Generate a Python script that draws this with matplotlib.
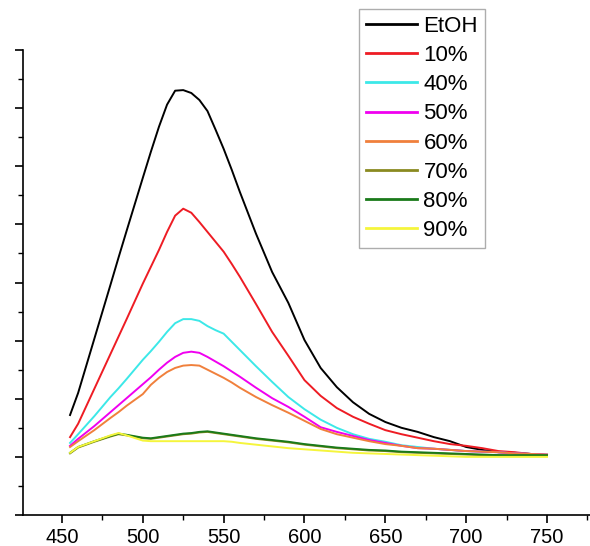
import numpy as np
import matplotlib.pyplot as plt
from matplotlib.ticker import MultipleLocator

plt.rcParams['font.family'] = ['Liberation Sans', 'DejaVu Sans']

# wavelength grid (nm)
wl = [455, 460, 470, 480, 485, 490, 500, 505, 510, 515, 520, 525, 530, 535, 540, 545,
      550, 555, 560, 570, 580, 590, 600, 610, 620, 630, 640, 650, 660, 670, 680,
      690, 700, 710, 720, 730, 740, 750]

etoh = [1.72, 2.10, 3.03, 3.96, 4.43, 4.89, 5.80, 6.25, 6.68, 7.06, 7.30, 7.31, 7.26, 7.14, 6.95, 6.63,
        6.30, 5.94, 5.56, 4.84, 4.18, 3.65, 3.01, 2.53, 2.20, 1.94, 1.74, 1.60, 1.50, 1.43, 1.34,
        1.27, 1.17, 1.12, 1.08, 1.07, 1.05, 1.03]
p10 = [1.34, 1.57, 2.17, 2.77, 3.07, 3.37, 3.98, 4.27, 4.56, 4.87, 5.15, 5.27, 5.20, 5.04, 4.87, 4.70,
       4.53, 4.32, 4.10, 3.63, 3.15, 2.74, 2.32, 2.05, 1.84, 1.69, 1.57, 1.46, 1.39, 1.33, 1.27,
       1.22, 1.19, 1.15, 1.10, 1.08, 1.05, 1.03]
p40 = [1.24, 1.39, 1.70, 2.03, 2.18, 2.34, 2.67, 2.82, 2.98, 3.15, 3.30, 3.37, 3.37, 3.34, 3.25, 3.18,
       3.12, 2.98, 2.84, 2.56, 2.29, 2.03, 1.82, 1.64, 1.50, 1.39, 1.31, 1.26, 1.20, 1.17, 1.14,
       1.12, 1.10, 1.09, 1.08, 1.06, 1.05, 1.04]
p50 = [1.19, 1.31, 1.53, 1.77, 1.89, 2.01, 2.25, 2.37, 2.50, 2.62, 2.72, 2.79, 2.81, 2.79, 2.72, 2.64,
       2.56, 2.47, 2.38, 2.19, 2.01, 1.86, 1.69, 1.51, 1.43, 1.36, 1.29, 1.24, 1.19, 1.15, 1.14,
       1.12, 1.10, 1.09, 1.08, 1.06, 1.05, 1.04]
p60 = [1.17, 1.27, 1.46, 1.67, 1.77, 1.88, 2.08, 2.24, 2.36, 2.46, 2.53, 2.57, 2.58, 2.57, 2.50, 2.43,
       2.36, 2.28, 2.19, 2.03, 1.89, 1.76, 1.62, 1.48, 1.39, 1.33, 1.27, 1.22, 1.19, 1.15, 1.14,
       1.12, 1.10, 1.09, 1.08, 1.06, 1.05, 1.04]
p70 = [1.06, 1.16, 1.26, 1.35, 1.39, 1.37, 1.32, 1.31, 1.33, 1.35, 1.37, 1.39, 1.40, 1.42, 1.43, 1.41,
       1.39, 1.37, 1.35, 1.31, 1.28, 1.25, 1.21, 1.18, 1.15, 1.13, 1.11, 1.10, 1.08, 1.07, 1.06,
       1.05, 1.04, 1.03, 1.03, 1.02, 1.02, 1.02]
p80 = [1.07, 1.17, 1.27, 1.36, 1.40, 1.38, 1.33, 1.32, 1.34, 1.36, 1.38, 1.40, 1.41, 1.43, 1.44, 1.42,
       1.40, 1.38, 1.36, 1.32, 1.29, 1.26, 1.22, 1.19, 1.16, 1.14, 1.12, 1.11, 1.09, 1.08, 1.07,
       1.06, 1.05, 1.04, 1.03, 1.03, 1.03, 1.03]
p90 = [1.07, 1.17, 1.27, 1.37, 1.41, 1.37, 1.28, 1.27, 1.27, 1.27, 1.27, 1.27, 1.27, 1.27, 1.27, 1.27,
       1.27, 1.26, 1.24, 1.21, 1.18, 1.15, 1.13, 1.11, 1.09, 1.07, 1.06, 1.05, 1.04, 1.03, 1.02,
       1.01, 1.00, 1.00, 1.00, 1.00, 1.00, 1.00]

labels = ['EtOH', '10%', '40%', '50%', '60%', '70%', '80%', '90%']
colors = ['#000000', '#ee1c24', '#3ce8e8', '#f000f0', '#f0803c', '#8a8a20', '#1a7a1a', '#f5f53c']
series = [etoh, p10, p40, p50, p60, p70, p80, p90]

fig = plt.figure(figsize=(5.9, 5.46), dpi=100)
ax = fig.add_axes([23 / 590, 31 / 546, 567 / 590, 465 / 546])

for y, c, lab in zip(series, colors, labels):
    ax.plot(wl, y, color=c, lw=1.4, label=lab)

ax.set_xlim(425.9, 776.6)
ax.set_ylim(0, 8)
ax.xaxis.set_major_locator(MultipleLocator(50))
ax.xaxis.set_minor_locator(MultipleLocator(25))
ax.yaxis.set_major_locator(MultipleLocator(1))
ax.yaxis.set_minor_locator(MultipleLocator(0.5))
ax.tick_params(which='major', direction='out', length=6, width=1.2, labelsize=14.5)
ax.tick_params(which='minor', direction='out', length=3.5, width=1.0)
ax.tick_params(axis='y', labelleft=False)
ax.spines['top'].set_visible(False)
ax.spines['right'].set_visible(False)
ax.spines['left'].set_linewidth(1.2)
ax.spines['bottom'].set_linewidth(1.2)

leg = ax.legend(loc='upper left', bbox_to_anchor=(359 / 590, 1 - 9 / 546),
                bbox_transform=fig.transFigure, fontsize=16, frameon=True, fancybox=False,
                edgecolor='#999999', handlelength=2.3, handletextpad=0.3, labelspacing=0.37,
                borderpad=0.3, borderaxespad=0)
leg.get_frame().set_linewidth(1.0)
for h in leg.get_lines():
    h.set_linewidth(2.0)

fig.savefig('out.png', dpi=100)
